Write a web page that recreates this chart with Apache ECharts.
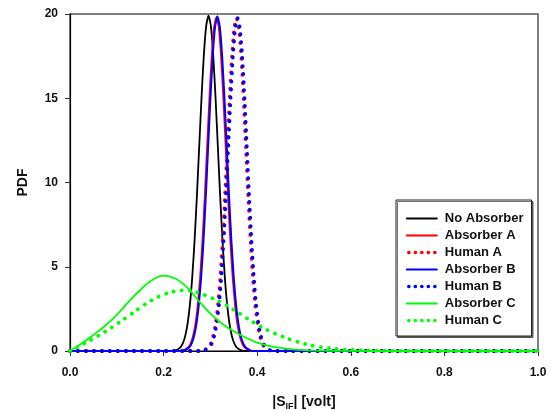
<!DOCTYPE html>
<html>
<head>
<meta charset="utf-8">
<script src="https://cdn.jsdelivr.net/npm/echarts@6/dist/echarts.min.js"></script>
<style>
html,body{margin:0;padding:0;background:#fff;}
#chart{width:551px;height:410px;}
</style>
</head>
<body>
<div id="chart"></div>
<script>
// ---- data ----
var seriesNames = ['No Absorber', 'Absorber A', 'Human A', 'Absorber B', 'Human B', 'Absorber C', 'Human C'];
var xTicks = [0.0, 0.2, 0.4, 0.6, 0.8, 1.0];
var yTicks = [0, 5, 10, 15, 20];

var xNoAbs = [0, 0.216, 0.226, 0.236, 0.241, 0.246, 0.251, 0.256, 0.261, 0.266, 0.271, 0.276, 0.281, 0.286, 0.291, 0.296, 0.301, 0.306, 0.311, 0.316, 0.321, 0.326, 0.331, 0.336, 0.341, 0.346, 0.351, 0.356, 0.366, 0.376, 1.0];
var yNoAbs = [0, 0, 0.04, 0.22, 0.45, 0.87, 1.58, 2.69, 4.31, 6.46, 9.11, 12.07, 15.02, 17.56, 19.29, 19.9, 19.29, 17.56, 15.02, 12.07, 9.11, 6.46, 4.31, 2.69, 1.58, 0.87, 0.45, 0.22, 0.04, 0, 0];

var xAbsA = [0, 0.233, 0.243, 0.253, 0.258, 0.263, 0.268, 0.273, 0.278, 0.283, 0.288, 0.293, 0.298, 0.303, 0.308, 0.313, 0.318, 0.323, 0.328, 0.333, 0.338, 0.343, 0.348, 0.353, 0.358, 0.363, 0.368, 0.373, 0.383, 0.393, 1.0];
var yAbsA = [0, 0, 0.04, 0.22, 0.45, 0.87, 1.57, 2.68, 4.29, 6.43, 9.07, 12.02, 14.95, 17.48, 19.2, 19.8, 19.2, 17.48, 14.95, 12.02, 9.07, 6.43, 4.29, 2.68, 1.57, 0.87, 0.45, 0.22, 0.04, 0, 0];

var xHumA = [0, 0.276, 0.286, 0.296, 0.301, 0.306, 0.311, 0.316, 0.321, 0.326, 0.331, 0.336, 0.341, 0.346, 0.351, 0.356, 0.361, 0.366, 0.371, 0.376, 0.381, 0.386, 0.391, 0.396, 0.401, 0.406, 0.411, 0.416, 0.426, 0.436, 1.0];
var yHumA = [0, 0, 0.04, 0.22, 0.45, 0.87, 1.57, 2.67, 4.28, 6.42, 9.05, 11.99, 14.92, 17.44, 19.16, 19.75, 19.16, 17.44, 14.92, 11.99, 9.05, 6.42, 4.28, 2.67, 1.57, 0.87, 0.45, 0.22, 0.04, 0, 0];

var xAbsB = [0, 0.235, 0.245, 0.255, 0.26, 0.265, 0.27, 0.275, 0.28, 0.285, 0.29, 0.295, 0.3, 0.305, 0.31, 0.315, 0.32, 0.325, 0.33, 0.335, 0.34, 0.345, 0.35, 0.355, 0.36, 0.365, 0.37, 0.375, 0.385, 0.395, 1.0];
var yAbsB = [0, 0, 0.04, 0.22, 0.45, 0.87, 1.58, 2.69, 4.3, 6.45, 9.09, 12.04, 14.99, 17.52, 19.25, 19.85, 19.25, 17.52, 14.99, 12.04, 9.09, 6.45, 4.3, 2.69, 1.58, 0.87, 0.45, 0.22, 0.04, 0, 0];

var xHumB = [0, 0.278, 0.288, 0.298, 0.303, 0.308, 0.313, 0.318, 0.323, 0.328, 0.333, 0.338, 0.343, 0.348, 0.353, 0.358, 0.363, 0.368, 0.373, 0.378, 0.383, 0.388, 0.393, 0.398, 0.403, 0.408, 0.413, 0.418, 0.428, 0.438, 1.0];
var yHumB = [0, 0, 0.04, 0.22, 0.45, 0.87, 1.57, 2.67, 4.28, 6.42, 9.05, 11.99, 14.92, 17.44, 19.16, 19.75, 19.16, 17.44, 14.92, 11.99, 9.05, 6.42, 4.28, 2.67, 1.57, 0.87, 0.45, 0.22, 0.04, 0, 0];

var xAbsC = [0, 0.025, 0.05, 0.075, 0.1, 0.125, 0.15, 0.175, 0.2, 0.225, 0.25, 0.275, 0.3, 0.325, 0.35, 0.375, 0.4, 0.425, 0.45, 0.475, 0.5, 0.55, 0.6, 0.7, 1.0];
var yAbsC = [0, 0.45, 0.95, 1.5, 2.15, 2.92, 3.62, 4.2, 4.47, 4.3, 3.78, 2.98, 2.22, 1.62, 1.17, 0.8, 0.5, 0.3, 0.18, 0.1, 0.05, 0.015, 0.004, 0, 0];

var xHumC = [0, 0.025, 0.05, 0.075, 0.1, 0.125, 0.15, 0.175, 0.2, 0.225, 0.25, 0.275, 0.3, 0.325, 0.35, 0.375, 0.4, 0.425, 0.45, 0.475, 0.5, 0.525, 0.55, 0.575, 0.6, 0.65, 0.7, 0.8, 1.0];
var yHumC = [0, 0.36, 0.74, 1.15, 1.6, 2.08, 2.57, 3.02, 3.35, 3.55, 3.6, 3.45, 3.18, 2.86, 2.45, 2.0, 1.57, 1.2, 0.9, 0.64, 0.43, 0.28, 0.18, 0.11, 0.07, 0.03, 0.01, 0, 0];

// ---- build ----
function pairs(xs, ys) { return xs.map(function (x, i) { return [x, ys[i]]; }); }
var FONT = '"Liberation Sans", Arial, sans-serif';
var dotted = [0.1, 7.9];
var legendDotted = [0.1, 6.4];

var seriesDefs = [
  { x: xNoAbs, y: yNoAbs, color: '#000000', width: 1.8, type: 'solid', smooth: 0.2 },
  { x: xAbsA, y: yAbsA, color: '#ff0000', width: 2, type: 'solid', smooth: 0.2 },
  { x: xHumA, y: yHumA, color: '#ff0000', width: 3.8, type: dotted, smooth: 0.2 },
  { x: xAbsB, y: yAbsB, color: '#0000ff', width: 2, type: 'solid', smooth: 0.2 },
  { x: xHumB, y: yHumB, color: '#0000ff', width: 3.8, type: dotted, smooth: 0.2 },
  { x: xAbsC, y: yAbsC, color: '#00ff00', width: 1.8, type: 'solid', smooth: 0.4 },
  { x: xHumC, y: yHumC, color: '#00ff00', width: 3.8, type: dotted, smooth: 0.4 }
];

var series = seriesDefs.map(function (d, i) {
  return {
    name: seriesNames[i],
    type: 'line',
    data: pairs(d.x, d.y),
    showSymbol: false,
    symbol: 'none',
    smooth: d.smooth,
    color: d.color,
    lineStyle: { color: d.color, width: d.width, type: d.type, cap: 'round' },
    animation: false,
    z: 2 + i
  };
});

var legendData = seriesDefs.map(function (d, i) {
  var item = { name: seriesNames[i] };
  if (d.type !== 'solid') {
    item.lineStyle = { color: d.color, width: 3.6, type: legendDotted, cap: 'round', dashOffset: -2 };
  }
  return item;
});

var chart = echarts.init(document.getElementById('chart'), null, { renderer: 'canvas' });
chart.setOption({
  backgroundColor: '#ffffff',
  animation: false,
  grid: { left: 70, right: 13, top: 14, bottom: 59, containLabel: false, outerBoundsMode: 'none',
    show: true, borderColor: '#555', borderWidth: 1.5, backgroundColor: 'transparent' },
  xAxis: {
    type: 'value', min: xTicks[0], max: xTicks[xTicks.length - 1], interval: 0.2,
    axisLine: { show: true, lineStyle: { color: '#000', width: 1.2 } },
    axisTick: { show: true, length: 5, lineStyle: { color: '#333', width: 1 } },
    splitLine: { show: false },
    axisLabel: { margin: 16, color: '#111', fontWeight: 'bold', fontSize: 12, fontFamily: FONT,
      formatter: function (v) { return v.toFixed(1); } },
    name: '{n||S}{s|IF}{n|| [volt]}',
    nameLocation: 'middle', nameGap: 42,
    nameTextStyle: {
      color: '#111', fontFamily: FONT, fontWeight: 'bold', fontSize: 14,
      rich: {
        n: { fontSize: 14, fontWeight: 'bold', fontFamily: FONT, color: '#111' },
        s: { fontSize: 9, fontWeight: 'bold', fontFamily: FONT, color: '#111', padding: [9, 0, 0, 0] }
      }
    }
  },
  yAxis: {
    type: 'value', min: yTicks[0], max: yTicks[yTicks.length - 1], interval: 5,
    axisLine: { show: true, lineStyle: { color: '#000', width: 1.2 } },
    axisTick: { show: true, length: 5, lineStyle: { color: '#333', width: 1 } },
    splitLine: { show: false },
    axisLabel: { margin: 12, color: '#111', fontWeight: 'bold', fontSize: 12, fontFamily: FONT },
    name: 'PDF', nameLocation: 'middle', nameGap: 40,
    nameTextStyle: { color: '#111', fontFamily: FONT, fontWeight: 'bold', fontSize: 14 }
  },
  legend: {
    orient: 'vertical', left: 396, top: 200,
    data: legendData,
    itemWidth: 30, itemHeight: 14, itemGap: 4,
    padding: [12, 8, 9, 9],
    backgroundColor: '#fff',
    borderColor: '#222', borderWidth: 1,
    shadowColor: 'rgba(0,0,0,0.55)', shadowOffsetX: 1.5, shadowOffsetY: 1.5, shadowBlur: 0,
    itemStyle: { opacity: 0 },
    textStyle: { color: '#111', fontWeight: 'bold', fontSize: 13, fontFamily: FONT, padding: [0, 0, 0, 3] },
    selectedMode: false
  },
  series: series
});
</script>
</body>
</html>
